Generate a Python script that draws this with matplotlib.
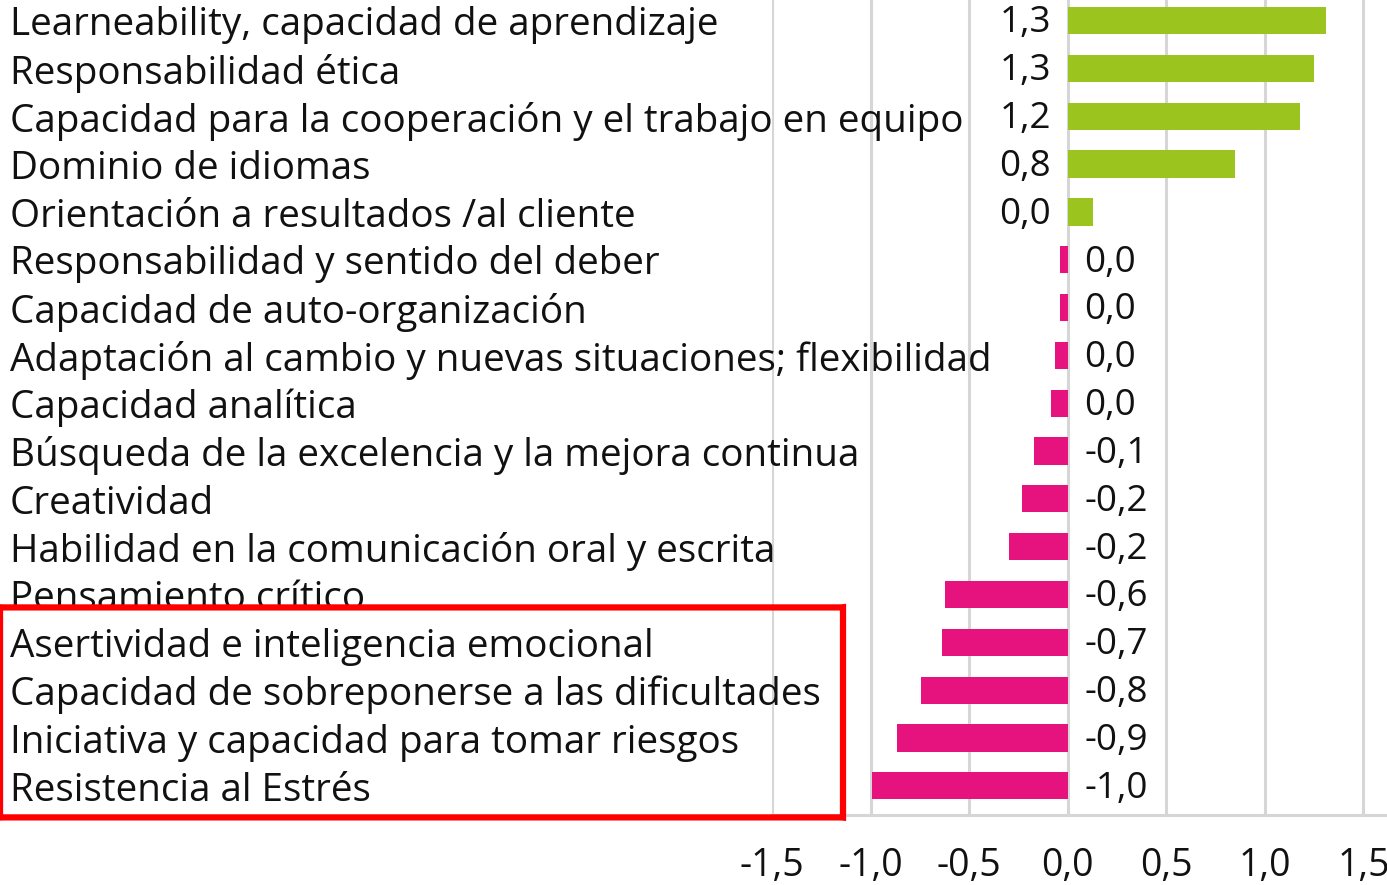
import matplotlib
matplotlib.use("Agg")
import matplotlib.pyplot as plt
import matplotlib.transforms as mtransforms
from matplotlib.patches import FancyBboxPatch

# ── data ──────────────────────────────────────────────────────────────────────
categories = [
    "Learneability, capacidad de aprendizaje",
    "Responsabilidad ética",
    "Capacidad para la cooperación y el trabajo en equipo",
    "Dominio de idiomas",
    "Orientación a resultados /al cliente",
    "Responsabilidad y sentido del deber",
    "Capacidad de auto-organización",
    "Adaptación al cambio y nuevas situaciones; flexibilidad",
    "Capacidad analítica",
    "Búsqueda de la excelencia y la mejora continua",
    "Creatividad",
    "Habilidad en la comunicación oral y escrita",
    "Pensamiento crítico",
    "Asertividad e inteligencia emocional",
    "Capacidad de sobreponerse a las dificultades",
    "Iniciativa y capacidad para tomar riesgos",
    "Resistencia al Estrés",
]
values = [1.31, 1.25, 1.18, 0.85, 0.13, -0.04, -0.04, -0.066, -0.086,
          -0.17, -0.23, -0.30, -0.62, -0.64, -0.746, -0.868, -0.995]
value_labels = ["1,3", "1,3", "1,2", "0,8", "0,0", "0,0", "0,0", "0,0", "0,0",
                "-0,1", "-0,2", "-0,2", "-0,6", "-0,7", "-0,8", "-0,9", "-1,0"]
xticks = [-1.5, -1.0, -0.5, 0.0, 0.5, 1.0, 1.5]
xtick_labels = ["-1,5", "-1,0", "-0,5", "0,0", "0,5", "1,0", "1,5"]
highlight_first = 13  # first highlighted row (Asertividad...)

GREEN = "#9cc41e"
PINK = "#e6127e"
GRID = "#d6d6d6"
FS_CAT = 27.8
FS_VAL = 26.5
FS_TICK = 27

plt.rcParams["font.family"] = ["Open Sans", "DejaVu Sans"]

fig = plt.figure(figsize=(13.87, 8.85), dpi=100)
ax = fig.add_axes([772 / 1387, 70 / 885, 616 / 1387, 815 / 885])

ypos = list(range(len(categories)))
colors = [GREEN if v >= 0 else PINK for v in values]
ax.barh(ypos, values, height=0.57, color=colors, zorder=3)

ax.set_xlim(-1.5, 1.625)
ax.set_ylim(len(categories) - 1 + 0.61, -0.43)
ax.set_xticks(xticks)
ax.set_xticklabels(xtick_labels, fontsize=FS_TICK)
ax.set_yticks([])
ax.tick_params(axis="x", length=0, pad=23, colors="#111111")
ax.grid(axis="x", color=GRID, linewidth=2.2, zorder=0)
for side in ["top", "left", "right"]:
    ax.spines[side].set_visible(False)
ax.spines["bottom"].set_color(GRID)
ax.spines["bottom"].set_linewidth(2.2)

# value labels next to the zero line
for y, v, lab in zip(ypos, values, value_labels):
    if v >= 0:
        ax.text(-0.085, y + 0.06, lab, ha="right", va="center", fontsize=FS_VAL,
                color="#111111", zorder=4)
    else:
        ax.text(0.085, y + 0.06, lab, ha="left", va="center", fontsize=FS_VAL,
                color="#111111", zorder=4)

# category names, left aligned at the figure edge
trans = mtransforms.blended_transform_factory(fig.transFigure, ax.transData)
for y, name in zip(ypos, categories):
    ax.text(10 / 1387, y + 0.1, name, transform=trans, ha="left", va="center",
            fontsize=FS_CAT, color="#111111", clip_on=False, zorder=4)

# red highlight box around the last rows
box_top = highlight_first - 0.73
box_bottom = len(categories) - 1 + 0.66
box = FancyBboxPatch((0.0, box_bottom), 843 / 1387, box_top - box_bottom,
                     boxstyle="round,pad=0,rounding_size=0.004",
                     transform=trans, fill=False, edgecolor="#ff0000",
                     linewidth=4.5, clip_on=False, zorder=6)
ax.add_patch(box)

fig.savefig("out.png", dpi=100)
